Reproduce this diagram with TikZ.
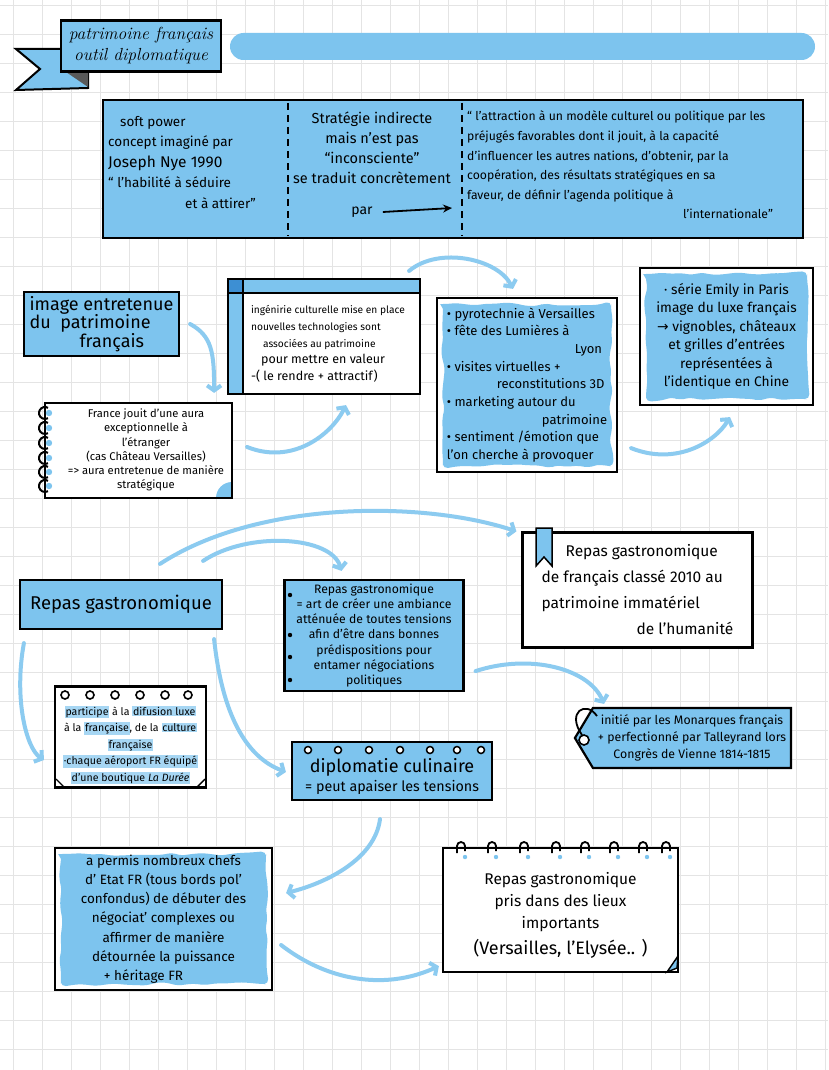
\documentclass[tikz,border=0pt]{standalone}
\usepackage{fontspec}
\setsansfont{Fira Sans}
\renewcommand{\familydefault}{\sfdefault}
\newfontfamily\arrowfont{DejaVu Sans}
\usetikzlibrary{arrows.meta,shapes.symbols,decorations.pathmorphing}

\definecolor{skyfill}{HTML}{7DC4EE}
\definecolor{arrowblue}{HTML}{8CCBF0}
\definecolor{deepblue}{HTML}{3D8FD3}
\definecolor{gridgray}{HTML}{E4E4E4}
\definecolor{hlblue}{HTML}{A6D6F3}

\newcommand{\fs}[2]{\fontsize{#1}{#2}\selectfont}
\newcommand{\hl}[1]{{\setlength{\fboxsep}{0.8pt}\colorbox{hlblue}{#1}}}

\tikzset{
  box/.style={draw=black,line width=2.2pt,inner sep=0pt,align=center},
  bluebox/.style={box,fill=skyfill},
  whitebox/.style={box,fill=white},
  riveted/.style={path picture={
      \foreach \cor/\sx/\sy in {north west/7/-7,north east/-7/-7,
                                south west/7/7,south east/-7/7}
        \fill ([xshift=\sx pt,yshift=\sy pt]path picture bounding box.\cor)
          circle[radius=1.8pt];}},
  cloudy/.style={path picture={
      \fill[skyfill,decorate,
            decoration={random steps,segment length=10pt,amplitude=2pt},
            rounded corners=5pt]
        ([shift={(6pt,-6pt)}]path picture bounding box.north west) rectangle
        ([shift={(-6pt,6pt)}]path picture bounding box.south east);}},
  txt/.style={inner sep=0pt,align=center},
  arr/.style={draw=arrowblue,line width=4pt,line cap=round,
    -{Straight Barb[length=5pt,width=14pt]}},
}

\begin{document}
\begin{tikzpicture}[x=1pt,y=-1pt]
% paper
\useasboundingbox (0,0) rectangle (828,1070);
\fill[white] (0,0) rectangle (828,1070);
\foreach \gx in {13,42,...,828} \draw[gridgray,line width=0.8pt] (\gx,0) -- (\gx,1070);
\foreach \gy in {5,34,...,1070} \draw[gridgray,line width=0.8pt] (0,\gy) -- (828,\gy);

% title banner
\draw[line width=2pt,fill=skyfill] (16,49) -- (66,49) -- (66,72) -- (88,72) -- (88,88) -- (16,90) -- (40,69) -- cycle;
\fill[black!65] (66,72) -- (88,72) -- (88,87) -- cycle;
\node[bluebox,minimum width=160pt,minimum height=51pt,font=\rmfamily\itshape\fs{17.5}{21}] (title) at (141,46) {patrimoine français\\outil diplomatique};
\fill[skyfill,rounded corners=13.5pt] (230,33) rectangle (815,60);

% soft power
\node[bluebox,riveted,minimum width=700pt,minimum height=138pt] (nye) at (453,169) {};
\draw[line width=1.2pt,dash pattern=on 7pt off 5pt] (288,103) -- (288,236);
\draw[line width=1.2pt,dash pattern=on 7pt off 5pt] (462,103) -- (462,236);
\node[txt,align=left,anchor=north west,font=\fs{13.5}{20.5}] (softpower) at (108,116)
  {\hspace*{12pt}soft power\\concept imaginé par\\{\fs{15.5}{20.5}Joseph Nye 1990}\\“ l'habilité à séduire\\\hspace*{77pt}et à attirer”};
\node[txt,anchor=north,font=\fs{14.5}{20}] (strategie) at (372,112)
  {Stratégie indirecte\\mais n'est pas\\“inconsciente”\\se traduit concrètement};
\node[txt,font=\fs{14}{20}] (par) at (362,212) {par};
\coordinate (parend) at (452,208);
\draw[line width=1.8pt,-{Stealth[length=9pt,width=8pt]}] ([xshift=10pt]par.east) -- (parend);
\node[txt,align=left,anchor=north west,font=\fs{12.2}{19.6}] (nyedef) at (467,111)
  {“ l'attraction à un modèle culturel ou politique par les\\
   préjugés favorables dont il jouit, à la capacité\\
   d'influencer les autres nations, d'obtenir, par la\\
   coopération, des résultats stratégiques en sa\\
   faveur, de définir l'agenda politique à\\
   \hspace*{216pt}l'internationale”};

% patrimoine
\node[bluebox,riveted,minimum width=155pt,minimum height=64pt,align=left,font=\fs{18}{18.5}] (image) at (101.5,324)
  {image entretenue\\du\ \ patrimoine\\\hspace*{50pt}français};
\node[whitebox,minimum width=187pt,minimum height=95pt,
  path picture={\fill[skyfill] (path picture bounding box.south east) circle[radius=16pt];}] (aura) at (138.5,450.5) {};
\foreach \ry in {413,428,443,458,472,486} {
  \fill[skyfill] (49,\ry) circle[radius=3.2];
  \draw[line width=2pt] (45,\ry) ++(300:6) arc[start angle=300,end angle=60,radius=6];
}
\node[txt,font=\fs{11.2}{14.2}] (auratxt) at (146,450)
  {France jouit d'une aura\\exceptionnelle à\\l'étranger\\(cas Château Versailles)\\=> aura entretenue de manière\\stratégique};
\node[whitebox,minimum width=192pt,minimum height=115pt,
  path picture={
    \fill[skyfill] (path picture bounding box.north west) rectangle ([yshift=-14pt]path picture bounding box.north east);
    \fill[skyfill] (path picture bounding box.north west) rectangle ([xshift=15pt]path picture bounding box.south west);
    \fill[deepblue] (path picture bounding box.north west) rectangle ([shift={(15pt,-14pt)}]path picture bounding box.north west);
    \draw[line width=1.6pt] ([yshift=-14pt]path picture bounding box.north west) -- ([yshift=-14pt]path picture bounding box.north east);
    \draw[line width=1.6pt] ([xshift=15pt]path picture bounding box.north west) -- ([xshift=15pt]path picture bounding box.south west);
  }] (ingenierie) at (324,336.5) {};
\node[txt,align=left,font=\fs{10.2}{16.8}] (ingtxt) at (328,344)
  {ingénirie culturelle mise en place\\nouvelles technologies sont\\\hspace*{12pt}associées au patrimoine\\{\fs{12.5}{17.5}\hspace*{10pt}pour mettre en valeur}\\{\fs{12.5}{17.5}-( le rendre + attractif)}};
\node[whitebox,cloudy,minimum width=180pt,minimum height=174pt,align=left,font=\fs{13}{17.7}] (pyro) at (527,385)
  {• pyrotechnie à Versailles\\• fête des Lumières à\\\hspace*{128pt}Lyon\\• visites virtuelles +\\\hspace*{50pt}reconstitutions 3D\\
   • marketing autour du\\\hspace*{95pt}patrimoine\\• sentiment /émotion que\\l'on cherche à provoquer};
\node[whitebox,cloudy,minimum width=173pt,minimum height=137pt,font=\fs{13.8}{18.5}] (emily) at (726.5,336.5)
  {· série Emily in Paris\\image du luxe français\\{\arrowfont →} vignobles, châteaux\\et grilles d'entrées\\représentées à\\l'identique en Chine};

\draw[arr] ([xshift=10pt]image.east) .. controls +(22,12) and +(0,-40) .. ([shift={(-19pt,9pt)}]aura.north east);
\draw[arr] ([shift={(14pt,3.5pt)}]aura.east) .. controls +(45,18) and +(-15,30) .. ([shift={(22pt,-10pt)}]ingenierie.south);
\draw[arr] ([shift={(-12pt,7pt)}]ingenierie.north east) .. controls +(30,-25) and +(-15,-30) .. ([shift={(-14pt,8pt)}]pyro.north);
\draw[arr] ([shift={(13pt,25pt)}]pyro.south east) .. controls +(45,18) and +(-15,25) .. ([shift={(3.5pt,-11pt)}]emily.south);

% repas gastronomique
\node[bluebox,riveted,minimum width=202pt,minimum height=49pt,font=\fs{18.5}{20}] (repas) at (121,604.5) {Repas gastronomique};
\node[bluebox,minimum width=179pt,minimum height=111pt,font=\fs{12.2}{15.2}] (art) at (374,635.5)
  {Repas gastronomique\\= art de créer une ambiance\\atténuée de toutes tensions\\afin d'être dans bonnes\\prédispositions pour\\entamer négociations\\politiques};
\foreach \by in {595,635,657,680} \fill (290,\by) circle[radius=2.2];
\node[whitebox,minimum width=230pt,minimum height=115pt,align=left,font=\fs{15.5}{26}] (classe) at (637.5,590)
  {\hspace*{24pt}Repas gastronomique\\de français classé 2010 au\\patrimoine immatériel\\\hspace*{95pt}de l'humanité};
\draw[line width=1.5pt,fill=skyfill] (536,528) -- (552,528) -- (552,566) -- (544,557) -- (536,566) -- cycle;
\node[signal,signal to=west,signal pointer angle=118,draw=black,line width=2.2pt,fill=skyfill,
  inner xsep=5pt,inner ysep=5pt,minimum height=60pt,align=center,font=\fs{12.3}{17}] (tag) at (692,738)
  {initié par les Monarques français\\+ perfectionné par Talleyrand lors\\Congrès de Vienne 1814-1815};
\draw[line width=1.6pt,fill=white] (584,740) circle[radius=5];
\draw[line width=1.8pt] (582,735) .. controls (566,712) and (586,700) .. (597,716);
\node[whitebox,minimum width=151pt,minimum height=101pt] (participe) at (130.5,737) {};
\foreach \rx in {65,90,115,140,165,188} \draw[line width=1.6pt,fill=white] (\rx,695) circle[radius=4];
\draw[line width=1.4pt] (56,779) -- (64,787);
\draw[line width=1.4pt] (205,779) -- (197,787);
\node[txt,font=\fs{10.6}{16.5}] (participetxt) at (130.5,745)
  {\hl{participe} à la \hl{difusion luxe}\\à la \hl{française}, de la \hl{culture}\\\hl{française}\\\hl{·chaque aéroport FR équipé}\\\hl{d'une boutique {\itshape La Durée}}};
\node[bluebox,minimum width=200pt,minimum height=58pt] (diplo) at (392,771) {};
\foreach \rx in {308,338,369,400,430,457,481} \draw[line width=1.5pt,fill=white] (\rx,750) circle[radius=3.5];
\node[txt,font=\fs{18}{19}] (diplotxt) at (392,776) {diplomatie culinaire\\{\fs{14.3}{19}= peut apaiser les tensions}};

\draw[arr] ([shift={(39pt,15pt)}]repas.north) .. controls +(100,-65) and +(-90,-30) .. ([xshift=-5pt]classe.north west);
\draw[arr] ([shift={(-20pt,18pt)}]repas.north east) .. controls +(45,-30) and +(-10,-35) .. ([shift={(-32.5pt,8pt)}]art.north);
\draw[arr] ([shift={(5pt,-13pt)}]repas.south west) .. controls +(-10,55) and +(-18,-12) .. ([shift={(-10pt,-23pt)}]participe.west);
\draw[arr] ([shift={(-9pt,-9pt)}]repas.south east) .. controls +(8,75) and +(-40,-15) .. ([shift={(-5pt,-1pt)}]diplo.west);
\draw[arr] ([shift={(11pt,21pt)}]art.south east) .. controls +(55,-18) and +(-15,-35) .. ([shift={(-88pt,3pt)}]tag.north);

% diplomatie
\node[whitebox,cloudy,minimum width=217pt,minimum height=142pt,font=\fs{13.5}{19.2}] (permis) at (163.5,919)
  {a permis nombreux chefs\\d' Etat FR (tous bords pol'\\confondus) de débuter des\\négociat' complexes ou\\affirmer de manière\\détournée la puissance\\\hspace*{-40pt}+ héritage FR};
\node[whitebox,minimum width=235pt,minimum height=124pt] (lieux) at (560.5,910) {};
\foreach \hx in {457,488,520,552,581,610,639,662} {
  \fill[skyfill] (\hx+8,857) circle[radius=2.2];
  \draw[line width=1.8pt] (\hx,853) -- (\hx,846) arc[start angle=180,end angle=360,radius=4] -- (\hx+8,851);
}
\draw[line width=1.4pt,fill=skyfill] (678,956) -- (667,972) -- (677,968) -- cycle;
\node[txt,font=\fs{15.5}{22}] (lieuxtxt) at (560.5,915)
  {Repas gastronomique\\pris dans des lieux\\importants\\[4pt]{\fs{18}{22}(Versailles, l'Elysée.. )}};

\draw[arr] ([shift={(-12pt,-18pt)}]diplo.south) .. controls +(-5,40) and +(40,-10) .. ([shift={(13pt,26pt)}]permis.east);
\draw[arr] ([shift={(8pt,-26pt)}]permis.east) .. controls +(45,35) and +(-55,25) .. ([shift={(-3pt,7pt)}]lieux.south west);
\end{tikzpicture}
\end{document}
